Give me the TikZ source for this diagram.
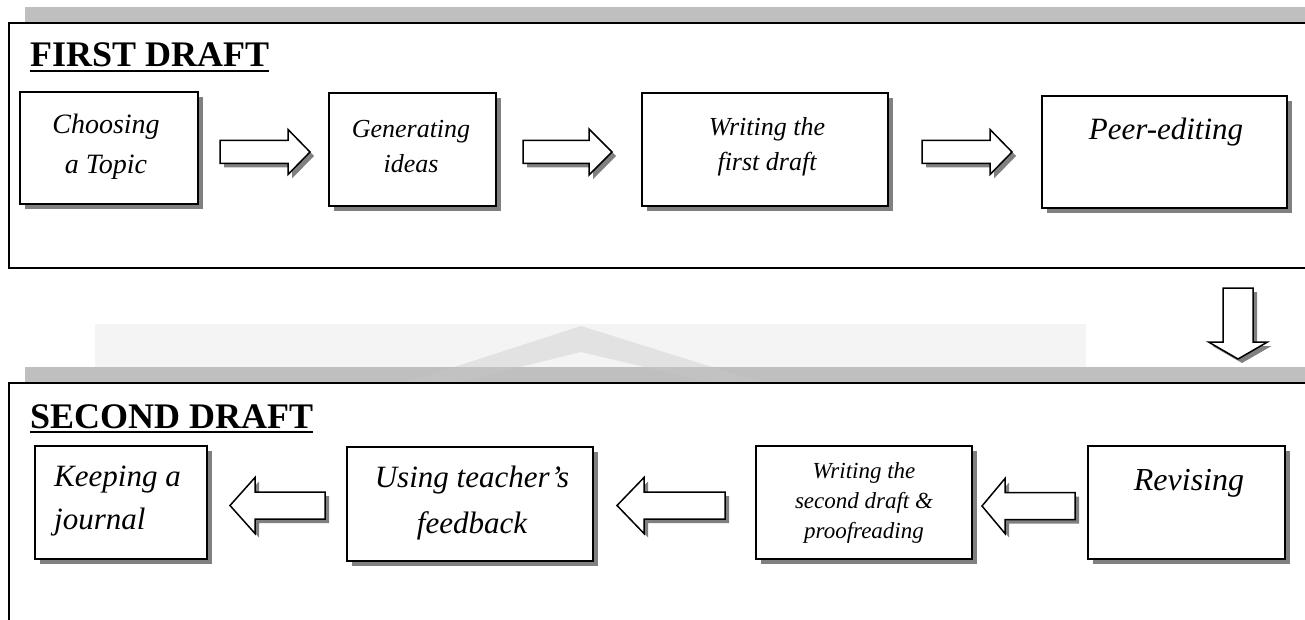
\documentclass[tikz,border=0pt]{standalone}
\usepackage{fontspec}
\setmainfont{Liberation Serif}
\usetikzlibrary{shadows,calc}
\definecolor{bandgray}{HTML}{BFBFBF}
\definecolor{shadegray}{HTML}{808080}
\definecolor{wmgray}{HTML}{F4F4F4}
\definecolor{chevgray}{HTML}{C8C8C8}
\tikzset{
  frame/.style={draw=black, line width=1.6pt, fill=white},
  band/.style={fill=bandgray},
  procbox/.style={draw=black, line width=1.8pt, fill=white, inner sep=0pt,
    general shadow={fill=shadegray, shadow xshift=5pt, shadow yshift=-5pt}},
  boxtext/.style={inner sep=0pt, align=center},
  draftitle/.style={inner sep=0pt, anchor=base west, font=\bfseries\fontsize{36}{40}\selectfont},
  underl/.style={line width=1.5pt},
  arrowline/.style={draw=black, line width=1.5pt, fill=white, line join=miter},
  arrowshade/.style={fill=shadegray},
  pics/barrow/.style n args={4}{code={
    \path[pic actions] (0,-#2) -- ({#1-#4},-#2) -- ({#1-#4},-#3) -- (#1,0)
      -- ({#1-#4},#3) -- ({#1-#4},#2) -- (0,#2) -- cycle;}},
}
\newcommand{\fs}[2]{\fontsize{#1}{#2}\selectfont}
\begin{document}
\begin{tikzpicture}[x=1pt,y=-1pt]
\useasboundingbox (0,0) rectangle (1305,620);
\clip (0,0) rectangle (1305,620);
\fill[white] (0,0) rectangle (1305,620);

% ---------- first frame ----------
\fill[band] (25,7) rectangle (1340,252);
\draw[frame] (9,23) rectangle (1330,268);

% ---------- watermark + second frame ----------
\fill[wmgray] (95,324) rectangle (1086,383);
\fill[band] (25,367) rectangle (1340,612);
\fill[chevgray, opacity=0.4] (405,383) -- (581,326) -- (763,383) -- (712,383) -- (581,352) -- (455,383) -- cycle;
\draw[frame] (9,383) rectangle (1330,640);

% ---------- titles ----------
\node[draftitle] (ft) at (30,67) {FIRST DRAFT};
\draw[underl] ([yshift=-4pt]ft.base west) -- ([yshift=-4pt]ft.base east);
\node[draftitle] (st) at (30,428) {SECOND DRAFT};
\draw[underl] ([yshift=-4pt]st.base west) -- ([yshift=-4pt]st.base east);

% ---------- first draft boxes ----------
\node[procbox, minimum width=178pt, minimum height=112pt] (b1) at (109,148) {};
\node[procbox, minimum width=167pt, minimum height=113pt] (b2) at (412.5,149.5) {};
\node[procbox, minimum width=246pt, minimum height=113pt] (b3) at (765,149.5) {};
\node[procbox, minimum width=245pt, minimum height=112pt] (b4) at (1164.5,152) {};

\node[boxtext, font=\itshape\fs{28}{40}] (t1) at (106,146.5) {Choosing\\a Topic};
\node[boxtext, font=\itshape\fs{26}{35}] (t2) at (411,146.4) {Generating\\ideas};
\node[boxtext, font=\itshape\fs{26}{35}] (t3) at (767,146.4) {Writing the\\first draft};
\node[boxtext, font=\itshape\fs{31}{36}, anchor=base] (t4) at (1166,140) {Peer-editing};

% ---------- second draft boxes ----------
\node[procbox, minimum width=172pt, minimum height=113pt] (b5) at (121,502.5) {};
\node[procbox, minimum width=246pt, minimum height=114pt] (b6) at (470,504) {};
\node[procbox, minimum width=216pt, minimum height=113pt] (b7) at (864,502.5) {};
\node[procbox, minimum width=197pt, minimum height=113pt] (b8) at (1186.5,502.5) {};

\node[boxtext, align=left, anchor=west, font=\itshape\fs{31}{43}] (t5) at (54,501.3) {Keeping a\\journal};
\node[boxtext, font=\itshape\fs{31}{46}] (t6) at (472,502.7) {Using teacher's\\feedback};
\node[boxtext, font=\itshape\fs{23}{30}] (t7) at (864,502.6) {Writing the\\second draft \&\\proofreading};
\node[boxtext, font=\itshape\fs{32}{36}, anchor=base] (t8) at (1189,490) {Revising};

% ---------- block arrows (first row, pointing right) ----------
\pic[arrowshade] at (224,156) {barrow={90}{11.5}{22.5}{22}};
\pic[arrowline] (ar1) at (220,152) {barrow={90}{11.5}{22.5}{22}};
\pic[arrowshade] at (527,156) {barrow={89}{11.5}{23}{23}};
\pic[arrowline] (ar2) at (523,152) {barrow={89}{11.5}{23}{23}};
\pic[arrowshade] at (926,156) {barrow={90}{11.5}{22.5}{22}};
\pic[arrowline] (ar3) at (922,152) {barrow={90}{11.5}{22.5}{22}};

% ---------- down arrow between the two drafts ----------
\pic[arrowshade, rotate=-90] at (1242,292) {barrow={71}{15}{29.5}{17}};
\pic[arrowline, rotate=-90] (ar4) at (1238,288) {barrow={71}{15}{29.5}{17}};

% ---------- block arrows (second row, pointing left) ----------
\pic[arrowshade, rotate=180] at (1079,510) {barrow={93}{13.5}{27.5}{23}};
\pic[arrowline, rotate=180] (ar5) at (1075,506) {barrow={93}{13.5}{27.5}{23}};
\pic[arrowshade, rotate=180] at (729,509.5) {barrow={108}{13.5}{28}{27}};
\pic[arrowline, rotate=180] (ar6) at (725,505.5) {barrow={108}{13.5}{28}{27}};
\pic[arrowshade, rotate=180] at (329,509.5) {barrow={95}{13.5}{28}{25}};
\pic[arrowline, rotate=180] (ar7) at (325,505.5) {barrow={95}{13.5}{28}{25}};
\end{tikzpicture}
\end{document}
